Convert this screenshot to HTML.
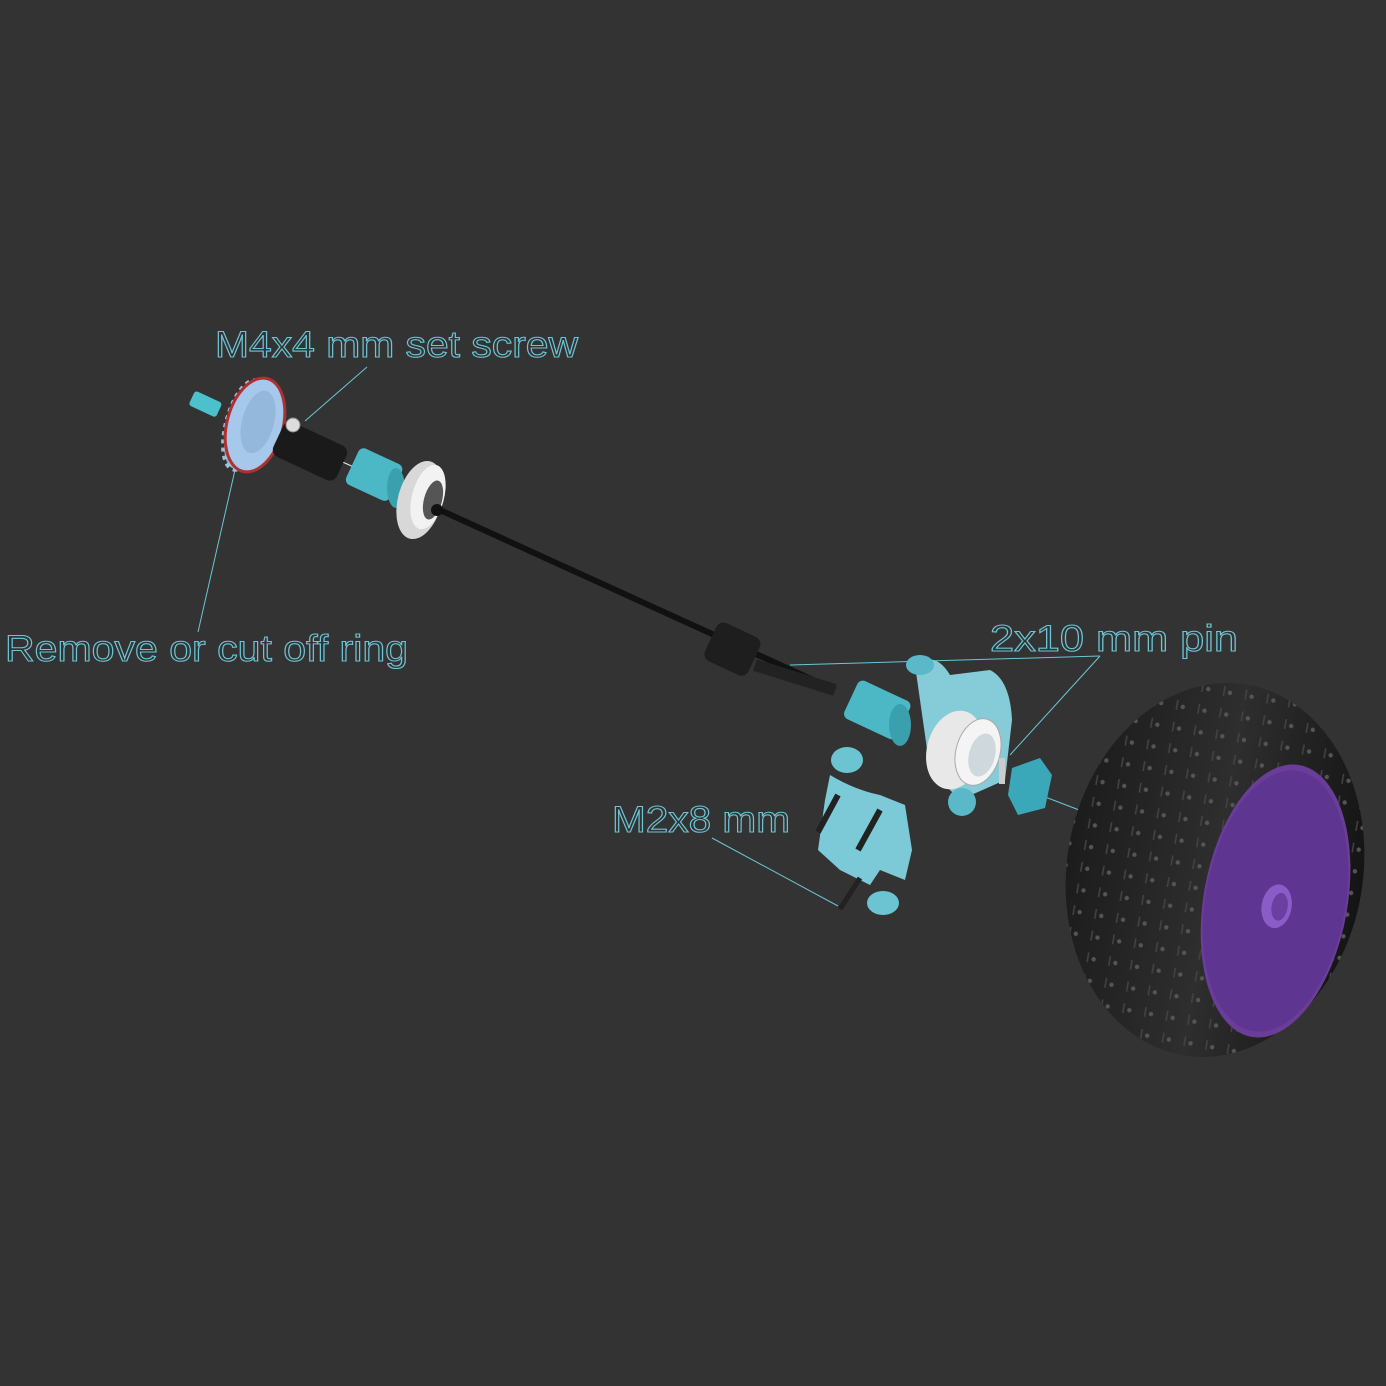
<!DOCTYPE html>
<html><head><meta charset="utf-8"><style>
html,body{margin:0;padding:0;background:#333333;}
svg{display:block}
text{font-family:"Liberation Sans",sans-serif;fill:none;stroke:#6cc6d6;stroke-width:1.1}
</style></head><body>
<svg width="1386" height="1386" viewBox="0 0 1386 1386" xmlns="http://www.w3.org/2000/svg">
<defs>
<linearGradient id="tire" x1="0" y1="0" x2="1" y2="0"><stop offset="0" stop-color="#1c1c1c"/><stop offset="0.5" stop-color="#2e2e2e"/><stop offset="1" stop-color="#141414"/></linearGradient>
<pattern id="dots" width="22" height="22" patternUnits="userSpaceOnUse"><circle cx="11" cy="11" r="2.2" fill="#555"/><line x1="5" y1="5" x2="5" y2="15" stroke="#444" stroke-width="1.5"/></pattern>
</defs>
<rect width="1386" height="1386" fill="#333333"/>

<g stroke="#6cc6d6" stroke-width="1" fill="none">
<line x1="367" y1="367" x2="305" y2="421"/>
<line x1="235" y1="470" x2="198" y2="632"/>
<line x1="790" y1="665" x2="1100" y2="656"/>
<line x1="1100" y1="656" x2="1010" y2="755"/>
<line x1="712" y1="838" x2="838" y2="906"/>
<line x1="1040" y1="795" x2="1100" y2="818"/>
</g>

<line x1="440" y1="510" x2="835" y2="690" stroke="#111" stroke-width="6"/>
<line x1="270" y1="430" x2="440" y2="505" stroke="#eee" stroke-width="1"/>
<g transform="rotate(25 205 405)"><rect x="190" y="396" width="30" height="16" rx="3" fill="#4cc0cc"/></g>
<ellipse cx="245" cy="425" rx="18" ry="45" transform="rotate(15 245 425)" fill="#8ab0c8" stroke="#a0c0d8" stroke-width="6" stroke-dasharray="4 4"/>
<ellipse cx="255" cy="425" rx="28" ry="48" transform="rotate(15 255 425)" fill="#a6c8ea" stroke="#b03030" stroke-width="3"/>
<ellipse cx="258" cy="422" rx="16" ry="32" transform="rotate(15 258 422)" fill="#94b8dc"/>
<g transform="rotate(25 305 450)"><rect x="275" y="430" width="70" height="38" rx="8" fill="#1a1a1a"/></g>
<circle cx="293" cy="425" r="7" fill="#ddd" stroke="#888"/>
<g transform="rotate(25 375 475)"><rect x="350" y="455" width="48" height="40" rx="6" fill="#4cb8c6"/></g>
<ellipse cx="396" cy="488" rx="9" ry="20" fill="#3aa0ae"/>
<ellipse cx="420" cy="500" rx="22" ry="40" transform="rotate(15 420 500)" fill="#d8d8d8"/>
<ellipse cx="428" cy="497" rx="16" ry="33" transform="rotate(15 428 497)" fill="#f2f2f2"/>
<ellipse cx="433" cy="500" rx="9" ry="20" transform="rotate(15 433 500)" fill="#555"/>
<circle cx="437" cy="510" r="6" fill="#111"/>
<g transform="rotate(25 732 650)"><rect x="708" y="628" width="48" height="42" rx="8" fill="#1e1e1e"/></g>
<line x1="755" y1="665" x2="835" y2="690" stroke="#222" stroke-width="12"/>
<g transform="rotate(25 875 710)"><rect x="848" y="688" width="58" height="42" rx="6" fill="#4cb8c6"/></g>
<ellipse cx="900" cy="725" rx="11" ry="21" fill="#3aa0ae"/>
<path d="M915 665 Q935 650 950 675 L990 670 Q1010 680 1012 720 L1005 780 L960 800 L930 770 L920 700 Z" fill="#86ccd8"/>
<ellipse cx="920" cy="665" rx="14" ry="10" fill="#5ab8c8"/>
<ellipse cx="962" cy="802" rx="14" ry="14" fill="#5ab8c8"/>
<ellipse cx="955" cy="750" rx="28" ry="40" transform="rotate(15 955 750)" fill="#e8e8e8"/>
<ellipse cx="978" cy="752" rx="22" ry="34" transform="rotate(15 978 752)" fill="#f4f4f4" stroke="#aaa"/>
<ellipse cx="982" cy="755" rx="13" ry="22" transform="rotate(15 982 755)" fill="#cfd8dc"/>
<rect x="999" y="758" width="6" height="26" fill="#ccc"/>
<polygon points="1012,768 1040,758 1052,775 1045,808 1018,815 1008,795" fill="#3aa8b8"/>
<ellipse cx="847" cy="760" rx="16" ry="13" fill="#6cc4d2"/>
<path d="M830 775 Q855 790 880 795 L905 805 L912 850 L905 880 L880 870 L870 885 L840 870 L818 850 L825 800 Z" fill="#7ccad8"/>
<ellipse cx="883" cy="903" rx="16" ry="12" fill="#6cc4d2"/>
<line x1="818" y1="832" x2="838" y2="795" stroke="#222" stroke-width="6"/>
<line x1="858" y1="850" x2="880" y2="810" stroke="#222" stroke-width="6"/>
<line x1="840" y1="909" x2="860" y2="878" stroke="#222" stroke-width="5"/>

<g transform="rotate(10 1215 870)">
<ellipse cx="1215" cy="870" rx="148" ry="188" fill="url(#tire)"/>
<ellipse cx="1215" cy="870" rx="148" ry="188" fill="url(#dots)"/>
<ellipse cx="1280" cy="890" rx="72" ry="138" fill="#6a3d98"/>
<ellipse cx="1280" cy="890" rx="70" ry="132" fill="#5e3590"/>
<ellipse cx="1282" cy="895" rx="15" ry="22" fill="#8a5cc8"/>
<ellipse cx="1285" cy="895" rx="8" ry="14" fill="#6a3fa0"/>
</g>

<text x="215" y="357" font-size="37" textLength="363" lengthAdjust="spacingAndGlyphs">M4x4 mm set screw</text>
<text x="5" y="661" font-size="37" textLength="403" lengthAdjust="spacingAndGlyphs">Remove or cut off ring</text>
<text x="990" y="651" font-size="37" textLength="248" lengthAdjust="spacingAndGlyphs">2x10  mm pin</text>
<text x="612" y="832" font-size="37" textLength="178" lengthAdjust="spacingAndGlyphs">M2x8 mm</text>
</svg>
</body></html>
